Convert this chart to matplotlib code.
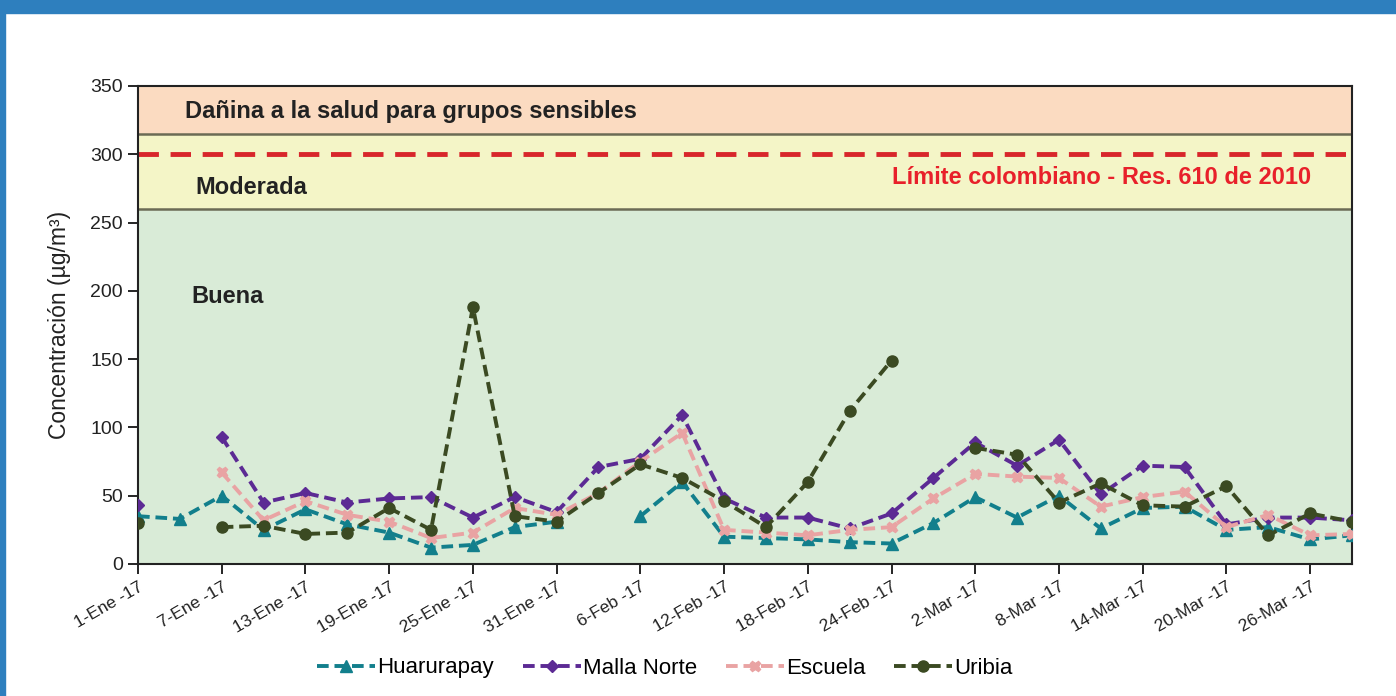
import numpy as np
import pandas as pd
import matplotlib
matplotlib.use("Agg")
import matplotlib.pyplot as plt
from matplotlib.patches import Rectangle

plt.rcParams['font.family'] = ['Liberation Sans', 'DejaVu Sans']

dates = pd.date_range("2017-01-01", "2017-03-29", freq="3D")
nan = np.nan
huarurapay = [35, 33, 50, 25, 40, 29, 23, 12, 14, 27, 31, nan, 35, 60, 20, 19, 18, 16, 15,
              30, 49, 34, 50, 26, 41, 42, 25, 27, 18, 21]
malla_norte = [43, nan, 93, 45, 52, 45, 48, 49, 34, 49, 38, 71, 77, 109, 48, 34, 34, 26, 37,
               63, 89, 72, 91, 51, 72, 71, 29, 34, 34, 32]
escuela = [nan, nan, 67, 32, 46, 36, 31, 19, 23, 41, 36, 52, 75, 96, 25, 23, 21, 25, 27,
           48, 66, 64, 63, 42, 49, 53, 27, 36, 21, 22]
uribia = [30, nan, 27, 28, 22, 23, 41, 25, 188, 35, 31, 52, 73, 63, 46, 27, 60, 112, 149,
          nan, 85, 80, 45, 59, 43, 42, 57, 21, 37, 31]

tick_dates = pd.date_range("2017-01-01", "2017-03-26", freq="6D")
tick_labels = ["1-Ene -17", "7-Ene -17", "13-Ene -17", "19-Ene -17", "25-Ene -17",
               "31-Ene -17", "6-Feb -17", "12-Feb -17", "18-Feb -17", "24-Feb -17",
               "2-Mar -17", "8-Mar -17", "14-Mar -17", "20-Mar -17", "26-Mar -17"]

bands = [(0, 260, "#d9ebd7"), (260, 315, "#f4f5c7"), (315, 350, "#fbdbc1")]
limit = 300

fig = plt.figure(figsize=(13.96, 6.96), dpi=100)
fig.patch.set_facecolor("white")
ax = fig.add_axes([138/1396, 1-564/696, (1352-138)/1396, (564-86)/696])

for lo, hi, c in bands:
    ax.axhspan(lo, hi, color=c, zorder=0, lw=0)
for b in (260, 315):
    ax.axhline(b, color="#6b6b55", lw=1.8, zorder=1)
ax.axhline(limit, color="#d8262b", lw=3.5, dashes=(4.2, 2.4), zorder=2)

series = [
    ("Huarurapay", huarurapay, "#127f8c", "^", 8),
    ("Malla Norte", malla_norte, "#5c2a94", "D", 6.5),
    ("Escuela", escuela, "#e9a3a3", "X", 7.5),
    ("Uribia", uribia, "#3b4a22", "o", 8),
]
for name, vals, col, mk, ms in series:
    ax.plot(dates, vals, color=col, lw=2.8, dashes=(3.0, 1.5), marker=mk,
            markersize=ms, markerfacecolor=col, markeredgecolor=col, label=name, zorder=3)

ax.set_xlim(dates[0], dates[-1])
ax.set_ylim(0, 350)
ax.set_yticks(range(0, 351, 50))
ax.set_xticks(tick_dates)
ax.set_xticklabels(tick_labels, rotation=30, ha="right", va="top",
                   rotation_mode="anchor", fontsize=12.5, color="#222222")
ax.tick_params(axis="y", labelsize=14, labelcolor="#222222", length=7, width=1.2, pad=4)
ax.tick_params(axis="x", length=7, width=1.2, pad=4)
for s in ax.spines.values():
    s.set_linewidth(1.5)
    s.set_color("#222222")
ax.set_ylabel("Concentración (µg/m³)", fontsize=16.5, color="#222222", labelpad=14)

ax.text(dates[0] + pd.Timedelta(days=3.4), 331, "Dañina a la salud para grupos sensibles",
        fontsize=17, fontweight="bold", color="#222222", va="center")
ax.text(dates[0] + pd.Timedelta(days=4.1), 276, "Moderada",
        fontsize=17, fontweight="bold", color="#222222", va="center")
ax.text(dates[0] + pd.Timedelta(days=3.8), 196, "Buena",
        fontsize=17, fontweight="bold", color="#222222", va="center")
ax.text(dates[0] + pd.Timedelta(days=84.1), 283, "Límite colombiano - Res. 610 de 2010",
        fontsize=17, fontweight="bold", color="#e8202a", va="center", ha="right")

leg = fig.legend(loc="center", bbox_to_anchor=(665/1396, 1-668/696), ncol=4,
                 frameon=False, fontsize=16, handlelength=2.6, columnspacing=1.3,
                 handletextpad=0.1)

fig.patches.append(Rectangle((0, 1-13/696), 1, 13/696, transform=fig.transFigure,
                             color="#2e7fbe", zorder=10))
fig.patches.append(Rectangle((0, 0), 5/1396, 1, transform=fig.transFigure,
                             color="#2e7fbe", zorder=10))

fig.savefig("out.png", dpi=100)
